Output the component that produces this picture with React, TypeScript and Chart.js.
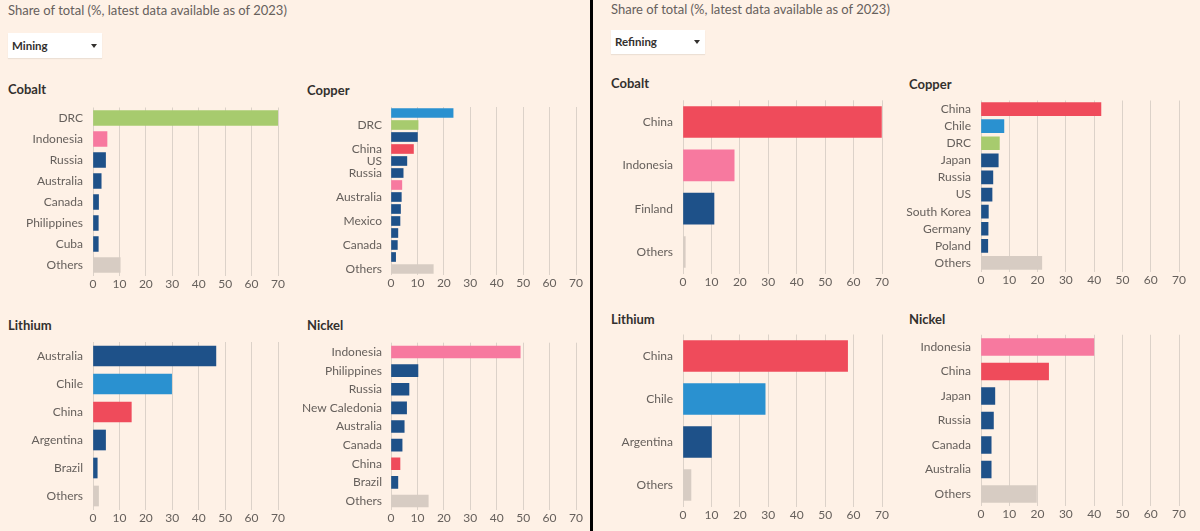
import React, { useEffect, useRef } from "react";
import { Chart, registerables } from "chart.js";

Chart.register(...registerables);
Chart.defaults.font.family = "Lato";

// ---------- DATA ----------
const xTickValues = [0, 10, 20, 30, 40, 50, 60, 70];

const miningCobaltLabels = ["DRC", "Indonesia", "Russia", "Australia", "Canada", "Philippines", "Cuba", "Others"];
const miningCobaltValues = [70, 5.3, 4.75, 3.1, 2.1, 2.0, 2.0, 10.3];

const miningCopperLabels = ["Chile", "DRC", "Peru", "China", "US", "Russia", "Indonesia", "Australia", "Zambia", "Mexico", "Kazakhstan", "Canada", "Poland", "Others"];
const miningCopperValues = [23.5, 10.25, 10.0, 8.5, 6.0, 4.6, 4.1, 3.9, 3.6, 3.4, 2.6, 2.4, 1.75, 16.0];
const miningCopperHiddenLabels = ["Chile", "Peru", "Indonesia", "Zambia", "Kazakhstan", "Poland"];

const miningLithiumLabels = ["Australia", "Chile", "China", "Argentina", "Brazil", "Others"];
const miningLithiumValues = [46.5, 29.75, 14.5, 4.75, 1.6, 2.1];

const miningNickelLabels = ["Indonesia", "Philippines", "Russia", "New Caledonia", "Australia", "Canada", "China", "Brazil", "Others"];
const miningNickelValues = [48.9, 10.2, 6.8, 5.9, 5.0, 4.2, 3.4, 2.6, 14.1];

const refiningCobaltLabels = ["China", "Indonesia", "Finland", "Others"];
const refiningCobaltValues = [69.8, 18.0, 10.9, 0.8];

const refiningCopperLabels = ["China", "Chile", "DRC", "Japan", "Russia", "US", "South Korea", "Germany", "Poland", "Others"];
const refiningCopperValues = [42.4, 8.1, 6.5, 6.1, 4.2, 3.9, 2.6, 2.5, 2.4, 21.5];

const refiningLithiumLabels = ["China", "Chile", "Argentina", "Others"];
const refiningLithiumValues = [57.9, 28.9, 10.0, 2.8];

const refiningNickelLabels = ["Indonesia", "China", "Japan", "Russia", "Canada", "Australia", "Others"];
const refiningNickelValues = [39.9, 23.9, 4.9, 4.4, 3.6, 3.6, 19.6];

const subtitleText = "Share of total (%, latest data available as of 2023)";

// ---------- STYLE ----------
const BG = "#FEF1E6";
const TEXT_GREY = "#66605C";
const TEXT_DARK = "#33302E";
const GRID = "#DCD2C9";
const COUNTRY_COLORS: Record<string, string> = {
  China: "#EF4B5B",
  Indonesia: "#F7799F",
  DRC: "#A7CB6E",
  Chile: "#2A91D0",
  Others: "#D7CCC3",
};
const DEFAULT_BAR = "#1E5189";
const colorFor = (name: string) => COUNTRY_COLORS[name] || DEFAULT_BAR;

const FONT_SIZE = 12;
const TICK_PAD = 1;

type Geom = {
  zeroX: number;
  endX: number;
  top: number;
  bottom: number;
  labelW: number;
  labelPad: number;
  barT: number;
};

function SmallBars({
  labels,
  values,
  hidden = [],
  g,
}: {
  labels: string[];
  values: number[];
  hidden?: string[];
  g: Geom;
}) {
  const ref = useRef<HTMLCanvasElement>(null);
  const PT0 = 4;
  const canvasTop = Math.floor(g.top) - PT0;
  const PT = g.top - canvasTop;
  const axisH = FONT_SIZE * 1.2 + 2 * TICK_PAD;
  const plotH = g.bottom - g.top;
  const H = Math.ceil(PT + plotH + axisH + 2);
  const PB = H - PT - plotH - axisH;
  const PR = 10;
  const left = g.zeroX - g.labelW;
  const W = g.labelW + (g.endX - g.zeroX) + PR;

  useEffect(() => {
    if (!ref.current) return;
    const chart = new Chart(ref.current, {
      type: "bar",
      data: {
        labels,
        datasets: [
          {
            data: values,
            backgroundColor: labels.map(colorFor),
            borderWidth: 0,
            barThickness: g.barT,
          },
        ],
      },
      options: {
        indexAxis: "y",
        responsive: false,
        maintainAspectRatio: false,
        animation: false,
        layout: { padding: { top: PT, right: PR, bottom: PB, left: 0 } },
        plugins: { legend: { display: false }, tooltip: { enabled: false } },
        scales: {
          x: {
            type: "linear",
            min: 0,
            max: 70,
            afterBuildTicks: (s: any) => {
              s.ticks = xTickValues.map((v) => ({ value: v }));
            },
            ticks: {
              padding: TICK_PAD,
              color: TEXT_GREY,
              font: { size: FONT_SIZE, family: "Lato" },
            },
            grid: { color: GRID, drawTicks: false, lineWidth: 1 },
            border: { display: false },
            afterFit: (s: any) => {
              s.paddingLeft = 0;
              s.paddingRight = 0;
            },
          },
          y: {
            grid: { display: false, drawTicks: false },
            border: { display: false },
            ticks: {
              autoSkip: false,
              padding: g.labelPad,
              color: TEXT_GREY,
              font: { size: FONT_SIZE, family: "Lato" },
              callback: (_v: any, i: number) => (hidden.includes(labels[i]) ? "" : labels[i]),
            },
            afterFit: (s: any) => {
              s.width = g.labelW;
              s.paddingTop = 0;
              s.paddingBottom = 0;
            },
          },
        },
      } as any,
    });
    return () => chart.destroy();
  }, []);

  return (
    <canvas
      ref={ref}
      width={W}
      height={H}
      style={{ position: "absolute", left, top: canvasTop, width: W, height: H }}
    />
  );
}

function Text({ x, y, children, bold = false, size = 13, color = TEXT_GREY }: any) {
  return (
    <div
      style={{
        position: "absolute",
        left: x,
        top: y - 8,
        height: 16,
        lineHeight: "16px",
        fontFamily: "Lato",
        fontSize: size,
        fontWeight: bold ? 700 : 400,
        color,
        whiteSpace: "nowrap",
      }}
    >
      {children}
    </div>
  );
}

function Dropdown({ x, y, w, h, label }: any) {
  return (
    <div
      style={{
        position: "absolute",
        left: x,
        top: y,
        width: w,
        height: h,
        background: "#FFFFFF",
        boxShadow: "0 1px 1px rgba(0,0,0,0.07)",
      }}
    >
      <div
        style={{
          position: "absolute",
          left: 4,
          top: 0,
          lineHeight: h + "px",
          fontFamily: "Lato",
          fontWeight: 700,
          fontSize: 11.5,
          color: TEXT_DARK,
        }}
      >
        {label}
      </div>
      <div
        style={{
          position: "absolute",
          left: w - 11,
          top: h / 2 - 2,
          width: 0,
          height: 0,
          borderLeft: "3.5px solid transparent",
          borderRight: "3.5px solid transparent",
          borderTop: "4px solid " + TEXT_DARK,
        }}
      />
    </div>
  );
}

export default function App() {
  return (
    <div
      style={{
        position: "absolute",
        left: 0,
        top: 0,
        width: 1200,
        height: 531,
        background: BG,
        overflow: "hidden",
      }}
    >
      {/* Left panel: Mining */}
      <Text x={8} y={10}>{subtitleText}</Text>
      <Dropdown x={8} y={33} w={94} h={25} label="Mining" />
      <Text x={8} y={89} bold color={TEXT_DARK}>Cobalt</Text>
      <Text x={307} y={90} bold color={TEXT_DARK}>Copper</Text>
      <Text x={8} y={325} bold color={TEXT_DARK}>Lithium</Text>
      <Text x={307} y={325} bold color={TEXT_DARK}>Nickel</Text>

      <SmallBars
        labels={miningCobaltLabels}
        values={miningCobaltValues}
        g={{ zeroX: 93, endX: 278, top: 107.5, bottom: 275.5, labelW: 93, labelPad: 10, barT: 15 }}
      />
      <SmallBars
        labels={miningCopperLabels}
        values={miningCopperValues}
        hidden={miningCopperHiddenLabels}
        g={{ zeroX: 391, endX: 576, top: 107, bottom: 275, labelW: 91, labelPad: 9, barT: 9 }}
      />
      <SmallBars
        labels={miningLithiumLabels}
        values={miningLithiumValues}
        g={{ zeroX: 93, endX: 278, top: 342, bottom: 510, labelW: 93, labelPad: 10, barT: 20 }}
      />
      <SmallBars
        labels={miningNickelLabels}
        values={miningNickelValues}
        g={{ zeroX: 391, endX: 576, top: 342.7, bottom: 510.3, labelW: 91, labelPad: 9, barT: 12 }}
      />

      {/* Divider */}
      <div style={{ position: "absolute", left: 590, top: 0, width: 3, height: 531, background: "#000" }} />

      {/* Right panel: Refining */}
      <Text x={611} y={9}>{subtitleText}</Text>
      <Dropdown x={611} y={30} w={94} h={24} label="Refining" />
      <Text x={611} y={83} bold color={TEXT_DARK}>Cobalt</Text>
      <Text x={909} y={84} bold color={TEXT_DARK}>Copper</Text>
      <Text x={611} y={319} bold color={TEXT_DARK}>Lithium</Text>
      <Text x={909} y={319} bold color={TEXT_DARK}>Nickel</Text>

      <SmallBars
        labels={refiningCobaltLabels}
        values={refiningCobaltValues}
        g={{ zeroX: 683, endX: 882, top: 100.3, bottom: 273.7, labelW: 85, labelPad: 10, barT: 31 }}
      />
      <SmallBars
        labels={refiningCopperLabels}
        values={refiningCopperValues}
        g={{ zeroX: 981, endX: 1179, top: 100.5, bottom: 271.5, labelW: 86, labelPad: 10, barT: 13 }}
      />
      <SmallBars
        labels={refiningLithiumLabels}
        values={refiningLithiumValues}
        g={{ zeroX: 683, endX: 882, top: 334.5, bottom: 506.5, labelW: 85, labelPad: 10, barT: 31 }}
      />
      <SmallBars
        labels={refiningNickelLabels}
        values={refiningNickelValues}
        g={{ zeroX: 981, endX: 1179, top: 334.75, bottom: 506.25, labelW: 86, labelPad: 10, barT: 17 }}
      />
    </div>
  );
}
